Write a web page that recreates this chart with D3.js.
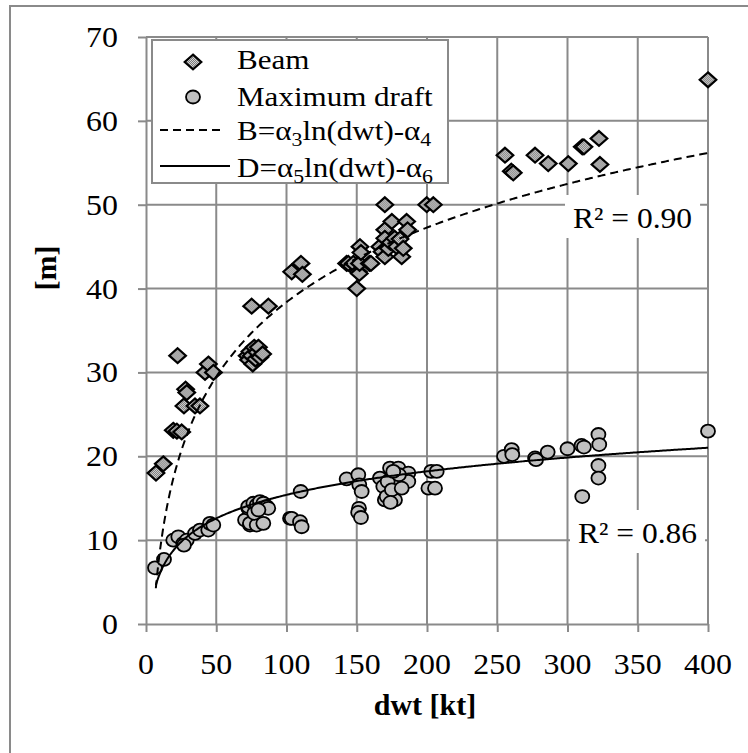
<!DOCTYPE html>
<html><head><meta charset="utf-8">
<script src="https://cdn.jsdelivr.net/npm/d3@7"></script>
<style>body{margin:0;background:#fff}svg{display:block}
text{font-family:"Liberation Serif","Times New Roman",Times,serif}</style>
</head><body>
<script>
// ---------------- data ----------------
const beamDwt = [7.1,12.3,19.4,22,25.4,22.5,27,28.2,29,34.9,38.4,42,44.4,48,
  72,73,74,75,76,77,78,79,80,81,83,75.2,87.1,
  103.7,110.3,111.3,
  142.8,144,147.6,150,151.1,151.8,152.3,152,153,159,160.1,
  166.5,168,170,170,170,170,172.5,174,175,177,178.4,180.8,182,183.1,185.5,186.2,
  199.8,204.5,
  255.5,260,261.4,276.9,286.3,300.6,310.5,311.7,322.4,323.1,400];
const beamVal = [18.0,19.1,23.1,23.0,22.9,32.0,26.0,28.0,27.6,26.0,26.0,30.0,31.0,30.0,
  32.0,31.5,32.5,32.0,31.0,33.0,31.6,32.4,33.0,31.8,32.2,37.9,37.9,
  42.0,43.0,41.7,
  43.0,43.0,43.0,40.0,42.0,41.8,45.0,43.0,44.3,43.0,43.0,
  45.0,44.4,50.0,47.0,46.0,43.8,44.8,45.5,48.0,46.0,45.0,45.9,43.8,44.8,48.0,47.0,
  50.0,50.0,
  55.9,54.0,53.8,55.9,54.9,54.9,56.9,56.9,57.9,54.8,64.9];
const draftDwt = [6.4,12.8,19.4,23,26.5,29,27,34.9,38.4,44.3,45.5,47.9,
  70.5,72.8,72.8,74,74,76.4,78.8,78.8,81.1,83.5,83.5,85.9,87,77,80,
  102.5,103.7,109.6,110.8,110.1,
  142.8,151.1,151.8,153.5,151.6,151,153,
  166.5,168.9,170,171.3,173.7,176,177.2,178.4,179.6,184.3,186.7,186.7,172,175,180,182,174,176,
  201,203,205.7,206.9,
  254.8,260.3,260.7,276.9,277.6,285.9,300,310,310.5,311.7,322,322.6,322,322,400];
const draftVal = [6.7,7.7,10.0,10.4,9.6,10.0,9.4,10.8,11.2,11.2,12.0,11.8,
  12.4,13.8,14.0,11.8,12.0,14.4,14.2,11.8,14.6,14.4,12.0,14.0,13.8,13.2,13.6,
  12.6,12.6,12.2,11.6,15.8,
  17.3,17.8,16.6,15.8,13.8,13.3,12.7,
  17.4,16.4,14.8,15.2,18.6,17.6,14.8,16.4,18.6,17.4,18.0,17.0,17.0,16.0,17.8,16.2,14.5,18.2,
  16.2,18.2,16.2,18.2,
  20.0,20.8,20.2,19.8,19.6,20.5,20.9,21.3,15.2,21.1,22.6,21.4,18.9,17.4,23.0];
const xTicks = [0,50,100,150,200,250,300,350,400];
const yTicks = [0,10,20,30,40,50,60,70];
const beamFit = [12.83, 20.7];   // alpha3, alpha4
const draftFit = [4.05, 3.25];   // alpha5, alpha6
const fitRange = [7, 400];
const seriesNames = ["Beam", "Maximum draft"];
const r2Labels = ["R\u00B2 = 0.90", "R\u00B2 = 0.86"];

// ---------------- chart ----------------
const W = 748, H = 753;
const GRID = "#8a8a8a";
const svg = d3.select("body").append("svg").attr("width", W).attr("height", H);

const defs = svg.append("defs");
const pat = defs.append("pattern").attr("id","hatch").attr("patternUnits","userSpaceOnUse")
  .attr("width",2).attr("height",2);
pat.append("rect").attr("width",2).attr("height",2).attr("fill","#d4d4d4");
pat.append("rect").attr("width",1).attr("height",1).attr("fill","#7a7a7a");
pat.append("rect").attr("x",1).attr("y",1).attr("width",1).attr("height",1).attr("fill","#7a7a7a");

// outer frame
svg.append("rect").attr("x",10).attr("y",6).attr("width",900).attr("height",900)
  .attr("fill","none").attr("stroke",GRID).attr("stroke-width",2);

const x = d3.scaleLinear().domain([0,400]).range([146,708]);
const y = d3.scaleLinear().domain([0,70]).range([624,37]);

// gridlines
svg.append("g").selectAll("line").data(xTicks.slice(1)).join("line")
  .attr("x1",d=>x(d)).attr("x2",d=>x(d)).attr("y1",y(0)).attr("y2",y(70))
  .attr("stroke",GRID).attr("stroke-width",2);
svg.append("g").selectAll("line").data(yTicks.slice(1)).join("line")
  .attr("x1",x(0)).attr("x2",x(400)).attr("y1",d=>y(d)).attr("y2",d=>y(d))
  .attr("stroke",GRID).attr("stroke-width",2);

// axes
const ax = svg.append("g").attr("transform",`translate(0,${y(0)})`)
  .call(d3.axisBottom(x).tickValues(xTicks).tickSize(8).tickSizeOuter(0).tickFormat(""));
const ay = svg.append("g").attr("transform",`translate(${x(0)},0)`)
  .call(d3.axisLeft(y).tickValues(yTicks).tickSize(8).tickSizeOuter(0).tickFormat(""));
[ax, ay].forEach(a => {
  a.selectAll("path,line").attr("stroke",GRID).attr("stroke-width",2);
});

// tick labels
const TS = 1.1;
svg.append("g").selectAll("text").data(xTicks).join("text")
  .attr("transform",d=>`translate(${x(d)},674) scale(${TS},1)`)
  .attr("text-anchor","middle").attr("font-size",29)
  .attr("fill","#000").text(d=>d);
svg.append("g").selectAll("text").data(yTicks).join("text")
  .attr("transform",d=>`translate(118,${y(d)+10}) scale(${TS},1)`)
  .attr("text-anchor","end").attr("font-size",29)
  .attr("fill","#000").text(d=>d);

// axis titles
svg.append("text").attr("transform","translate(425,715)").attr("text-anchor","middle")
  .attr("font-size",30).attr("font-weight","bold").text("dwt [kt]");
svg.append("text").attr("transform","translate(56,268) rotate(-90)").attr("text-anchor","middle")
  .attr("font-size",30).attr("font-weight","bold").text("[m]");

// markers
const DW = 8.3, DH = 7.4;
const diamondPath = `M0,${-DH}L${DW},0L0,${DH}L${-DW},0Z`;
const beam = beamDwt.map((d,i)=>({d, v: beamVal[i]}));
const draft = draftDwt.map((d,i)=>({d, v: draftVal[i]}));

svg.append("g").selectAll("path").data(beam).join("path")
  .attr("transform",p=>`translate(${x(p.d)},${y(p.v)})`)
  .attr("d",diamondPath).attr("fill","url(#hatch)").attr("stroke","#000").attr("stroke-width",2.2);
svg.append("g").selectAll("ellipse").data(draft).join("ellipse")
  .attr("cx",p=>x(p.d)).attr("cy",p=>y(p.v)).attr("rx",7).attr("ry",6.5)
  .attr("fill","#c0c0c0").attr("stroke","#000").attr("stroke-width",1.8);

// trend lines
const fitX = d3.range(fitRange[0], fitRange[1] + 0.01, 1);
const line = d3.line().x(p=>x(p[0])).y(p=>y(p[1]));
svg.append("path").datum(fitX.map(t=>[t, beamFit[0]*Math.log(t)-beamFit[1]]))
  .attr("d",line).attr("fill","none").attr("stroke","#000").attr("stroke-width",2)
  .attr("stroke-dasharray","8,5");
svg.append("path").datum(fitX.map(t=>[t, draftFit[0]*Math.log(t)-draftFit[1]]))
  .attr("d",line).attr("fill","none").attr("stroke","#000").attr("stroke-width",2);

// R² labels
const r2Pos = [[573,228],[578,543]];
r2Labels.forEach((lab,i)=>{
  const g = svg.append("g");
  const rc = g.append("rect").attr("fill","#fff");
  const t = g.append("text").attr("transform",`translate(${r2Pos[i][0]},${r2Pos[i][1]}) scale(1.05,1)`)
    .attr("font-size",30).attr("fill","#000").text(lab);
  const w = t.node().getComputedTextLength()*1.05;
  rc.attr("x",r2Pos[i][0]-8).attr("y",r2Pos[i][1]-33).attr("width",w+16).attr("height",43);
});

// legend
const lg = svg.append("g");
lg.append("rect").attr("x",152).attr("y",40).attr("width",296).attr("height",143)
  .attr("fill","#fff").attr("stroke",GRID).attr("stroke-width",2);
lg.append("path").attr("transform","translate(193,62)").attr("d",diamondPath)
  .attr("fill","url(#hatch)").attr("stroke","#000").attr("stroke-width",2.2);
lg.append("ellipse").attr("cx",193).attr("cy",97).attr("rx",7).attr("ry",6.5)
  .attr("fill","#c0c0c0").attr("stroke","#000").attr("stroke-width",1.8);
lg.append("line").attr("x1",160).attr("x2",225).attr("y1",130).attr("y2",130)
  .attr("stroke","#000").attr("stroke-width",2).attr("stroke-dasharray","8,5");
lg.append("line").attr("x1",160).attr("x2",230).attr("y1",166).attr("y2",166)
  .attr("stroke","#000").attr("stroke-width",2);

const LS = 1.15, LF = 27;
function legText(yb){
  return lg.append("text").attr("transform",`translate(237,${yb}) scale(${LS},1)`)
    .attr("font-size",LF).attr("fill","#000");
}
legText(69).text(seriesNames[0]);
legText(106).text(seriesNames[1]);
function eqText(yb, lead, s1, s2){
  const t = legText(yb);
  t.append("tspan").text(lead + "=\u03B1");
  t.append("tspan").attr("font-size",19).attr("dy",6).text(s1);
  t.append("tspan").attr("dy",-6).text("ln(dwt)-\u03B1");
  t.append("tspan").attr("font-size",19).attr("dy",6).text(s2);
}
eqText(140, "B", "3", "4");
eqText(177, "D", "5", "6");
</script>
</body></html>
